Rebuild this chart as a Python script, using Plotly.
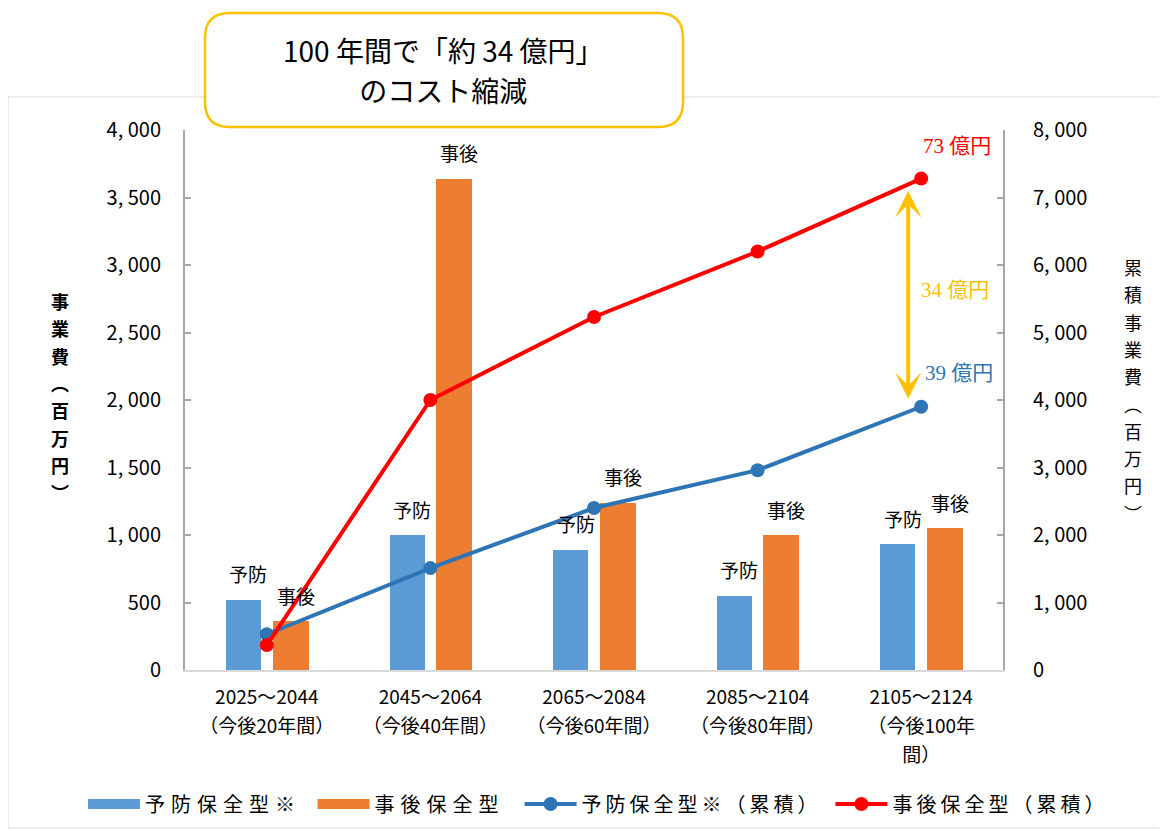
import plotly.graph_objects as go

# ---- data ----
categories = [
    "2025～2044<br>（今後20年間）",
    "2045～2064<br>（今後40年間）",
    "2065～2084<br>（今後60年間）",
    "2085～2104<br>（今後80年間）",
    "2105～2124<br>（今後100年<br>間）",
]
prev_cost = [520, 1000, 890, 550, 930]          # 予防保全型※
post_cost = [360, 3640, 1240, 1000, 1050]       # 事後保全型
prev_cum = [530, 1510, 2400, 2960, 3900]        # 予防保全型※（累積）
post_cum = [370, 4000, 5230, 6200, 7280]        # 事後保全型（累積）
names = ["予防保全型※", "事後保全型", "予防保全型※（累積）", "事後保全型（累積）"]
bar_labels = ["予防", "事後"]
left_title = "事業費︵百万円︶"
right_title = "累積事業費︵百万円︶"
left_ticks = list(range(0, 4001, 500))
right_ticks = list(range(0, 8001, 1000))

# ---- styles ----
FONT = "Noto Sans CJK JP"
SERIF = "Liberation Serif, Noto Sans CJK JP"
C_PREV = "#5B9BD5"
C_POST = "#ED7D31"
C_PREV_L = "#2E75B6"
C_POST_L = "#FF0000"
C_GOLD = "#FFC000"
AX = "#A6A6A6"

post_total = round(post_cum[-1] / 100)
prev_total = round(prev_cum[-1] / 100)
saving = post_total - prev_total


def small_lines(label, px=19):
    return "<br>".join(f'<span style="font-size:{px}px">{s}</span>' for s in label.split("<br>"))


def vertical(label, px=18, bold=False):
    parts = [f'<span style="font-size:{px}px">{c}</span>' for c in label]
    txt = "<br>".join(parts)
    return f"<b>{txt}</b>" if bold else txt


def spaced(label, ls=5):
    return f'<span style="letter-spacing:{ls}px">{label}</span>'


def tick_fmt(v):
    return f"{v:,}".replace(",", ", ")


fig = go.Figure()

B_OFF_P, B_W_P = -0.25, 0.215
B_OFF_Q, B_W_Q = 0.035, 0.22

fig.add_trace(go.Bar(x=categories, y=prev_cost, offset=B_OFF_P, width=B_W_P,
                     marker=dict(color=C_PREV, line=dict(width=0)),
                     showlegend=False, hoverinfo="skip"))
fig.add_trace(go.Bar(x=categories, y=post_cost, offset=B_OFF_Q, width=B_W_Q,
                     marker=dict(color=C_POST, line=dict(width=0)),
                     showlegend=False, hoverinfo="skip"))

# legend entries for the bars (wide rectangle look)
fig.add_trace(go.Scatter(x=[None], y=[None], mode="lines", name=spaced(names[0], 6),
                         line=dict(color=C_PREV, width=11), legend="legend"))
fig.add_trace(go.Scatter(x=[None], y=[None], mode="lines", name=spaced(names[1], 6),
                         line=dict(color=C_POST, width=11), legend="legend2"))

fig.add_trace(go.Scatter(x=categories, y=prev_cum, yaxis="y2", mode="lines+markers",
                         name=spaced(names[2], 4), line=dict(color=C_PREV_L, width=4),
                         marker=dict(size=14, color=C_PREV_L), legend="legend3"))
fig.add_trace(go.Scatter(x=categories, y=post_cum, yaxis="y2", mode="lines+markers",
                         name=spaced(names[3], 4), line=dict(color=C_POST_L, width=4),
                         marker=dict(size=14, color=C_POST_L), legend="legend4"))

annotations = []
# 予防 / 事後 labels above bars
for i in range(len(categories)):
    annotations.append(dict(x=i + B_OFF_P + B_W_P / 2, y=prev_cost[i], xref="x", yref="y",
                            text=bar_labels[0], showarrow=False, yanchor="middle", xanchor="center",
                            xshift=5, yshift=26, font=dict(family=FONT, size=19, color="#000")))
    annotations.append(dict(x=i + B_OFF_Q + B_W_Q / 2, y=post_cost[i], xref="x", yref="y",
                            text=bar_labels[1], showarrow=False, yanchor="middle", xanchor="center",
                            xshift=5, yshift=26, font=dict(family=FONT, size=19, color="#000")))

last = len(categories) - 1
annotations += [
    dict(x=last, y=post_cum[-1], xref="x", yref="y2", text=f"{post_total} 億円",
         showarrow=False, xshift=36, yshift=33, font=dict(family=SERIF, size=21, color=C_POST_L)),
    dict(x=last, y=prev_cum[-1], xref="x", yref="y2", text=f"{prev_total} 億円",
         showarrow=False, xshift=38, yshift=34, font=dict(family=SERIF, size=21, color=C_PREV_L)),
    dict(x=last, y=(post_cum[-1] + prev_cum[-1]) / 2, xref="x", yref="y2", text=f"{saving} 億円",
         showarrow=False, xshift=34, yshift=3, font=dict(family=SERIF, size=21, color=C_GOLD)),
    # double-headed arrow
    dict(x=last, y=prev_cum[-1], xref="x", yref="y2", ax=last, ay=post_cum[-1],
         axref="x", ayref="y2", text="", showarrow=True, arrowside="end+start",
         arrowhead=3, startarrowhead=3, arrowsize=1.1, startarrowsize=1.1,
         arrowwidth=4, arrowcolor=C_GOLD, standoff=8, startstandoff=11, xshift=-13),
    # title box text
    dict(x=0.3166, y=1.111, xref="paper", yref="paper", xanchor="center", yanchor="middle",
         text=small_lines(f"100 年間で「約 {saving} 億円」<br>のコスト縮減", 28), showarrow=False,
         font=dict(family=FONT, size=31, color="#000")),
    # vertical axis titles
    dict(x=-0.1528, y=0.507, xref="paper", yref="paper", xanchor="center", yanchor="middle",
         text=vertical(left_title, 18, bold=True), showarrow=False,
         font=dict(family=FONT, size=21, color="#000")),
    dict(x=1.159, y=0.5185, xref="paper", yref="paper", xanchor="center", yanchor="middle",
         text=vertical(right_title, 18), showarrow=False,
         font=dict(family=FONT, size=21, color="#000")),
]

# rounded title box
x0, x1, y0, y1 = 0.0244, 0.6088, 1.0056, 1.2167
rx, ry = 25 / 818, 25 / 540
box_path = (f"M{x0+rx},{y0} L{x1-rx},{y0} Q{x1},{y0} {x1},{y0+ry} "
            f"L{x1},{y1-ry} Q{x1},{y1} {x1-rx},{y1} L{x0+rx},{y1} "
            f"Q{x0},{y1} {x0},{y1-ry} L{x0},{y0+ry} Q{x0},{y0} {x0+rx},{y0} Z")
shapes = [
    dict(type="rect", xref="paper", yref="paper", x0=-0.2164, x1=1.198, y0=-0.2926, y1=1.0611,
         line=dict(color="#D9D9D9", width=1), fillcolor="rgba(0,0,0,0)", layer="below"),
    dict(type="path", xref="paper", yref="paper", path=box_path,
         line=dict(color=C_GOLD, width=2.5), fillcolor="white", layer="above"),
]

leg_common = dict(orientation="h", xref="container", yref="container", y=0.0316,
                  yanchor="middle", xanchor="left",
                  font=dict(family=FONT, size=20, color="#000"), bgcolor="rgba(0,0,0,0)",
                  itemwidth=52)

fig.update_layout(
    width=1159, height=822,
    margin=dict(l=177, r=164, t=122, b=160, autoexpand=False),
    paper_bgcolor="white", plot_bgcolor="white",
    font=dict(family=FONT, color="#000"),
    xaxis=dict(type="category", range=[-0.5, 4.5], showline=True, linecolor="#D9D9D9",
               linewidth=2, ticks="", showgrid=False, zeroline=False, automargin=False,
               tickvals=categories, ticktext=[small_lines(c) for c in categories],
               tickfont=dict(family=FONT, size=22, color="#000"), ticklabelstandoff=6),
    yaxis=dict(range=[0, 4000], tickvals=left_ticks, ticktext=[tick_fmt(v) for v in left_ticks],
               showline=True, linecolor=AX, linewidth=2, ticks="inside", ticklen=6,
               tickcolor=AX, tickwidth=2, showgrid=False, zeroline=False, automargin=False,
               tickfont=dict(family=FONT, size=20, color="#000"), ticklabelstandoff=18),
    yaxis2=dict(range=[0, 8000], overlaying="y", side="right", tickvals=right_ticks,
                ticktext=[tick_fmt(v) for v in right_ticks], showline=True, linecolor=AX,
                linewidth=2, ticks="inside", ticklen=6, tickcolor=AX, tickwidth=2,
                showgrid=False, zeroline=False, automargin=False,
                tickfont=dict(family=FONT, size=20, color="#000"), ticklabelstandoff=24),
    legend=dict(x=0.0647, **leg_common),
    legend2=dict(x=0.2628, **leg_common),
    legend3=dict(x=0.4414, **leg_common),
    legend4=dict(x=0.7096, **leg_common),
    annotations=annotations,
    shapes=shapes,
    bargap=0,
)

fig.write_html("out.html")
